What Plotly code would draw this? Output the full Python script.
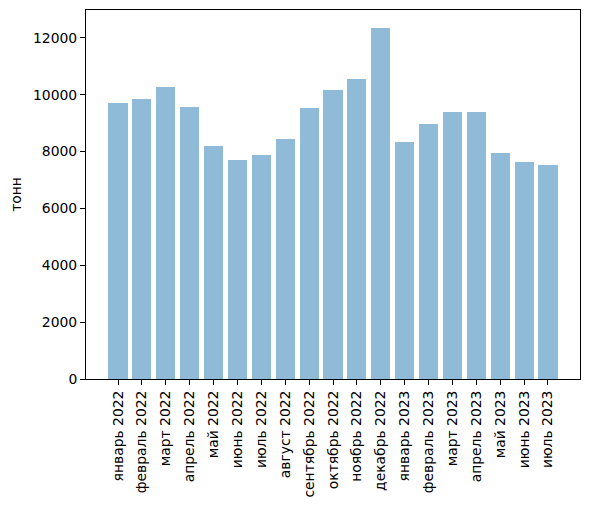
import plotly.graph_objects as go

months = [
    "январь 2022", "февраль 2022", "март 2022", "апрель 2022", "май 2022",
    "июнь 2022", "июль 2022", "август 2022", "сентябрь 2022", "октябрь 2022",
    "ноябрь 2022", "декабрь 2022", "январь 2023", "февраль 2023", "март 2023",
    "апрель 2023", "май 2023", "июнь 2023", "июль 2023",
]
tonnes = [
    9695, 9836, 10257, 9555, 8187, 7695, 7871, 8432, 9520, 10152,
    10538, 12362, 8327, 8959, 9380, 9380, 7941, 7625, 7520,
]
y_ticks = [0, 2000, 4000, 6000, 8000, 10000, 12000]

font = dict(family="DejaVu Sans", size=13.9, color="black")

fig = go.Figure(go.Bar(
    x=list(range(len(months))), y=tonnes,
    width=0.8,
    marker=dict(color="rgba(31,119,180,0.5)", line=dict(width=0)),
))

n = len(months)
pad = 0.05 * (n - 1 + 0.8)
fig.update_xaxes(
    range=[-0.4 - pad, n - 1 + 0.4 + pad],
    tickvals=list(range(n)), ticktext=months, tickangle=-90,
    ticks="outside", ticklen=5, tickcolor="black", tickwidth=1,
    showline=True, linecolor="black", linewidth=1, mirror=True,
    showgrid=False, zeroline=False, tickfont=font,
)
fig.update_yaxes(
    range=[0, max(tonnes) * 1.05],
    tickvals=y_ticks, ticktext=[str(v) for v in y_ticks],
    ticks="outside", ticklen=5, tickcolor="black", tickwidth=1,
    showline=True, linecolor="black", linewidth=1, mirror=True,
    showgrid=False, zeroline=False, tickfont=font,
    title=dict(text="тонн", font=font, standoff=14),
)
# the page body adds an 8px margin, so the figure is 8px smaller
fig.update_layout(
    width=581, height=498, autosize=False,
    margin=dict(l=76, r=9, t=1, b=127),
    plot_bgcolor="white", paper_bgcolor="white",
    showlegend=False, bargap=0,
)
fig.write_html("out.html")
